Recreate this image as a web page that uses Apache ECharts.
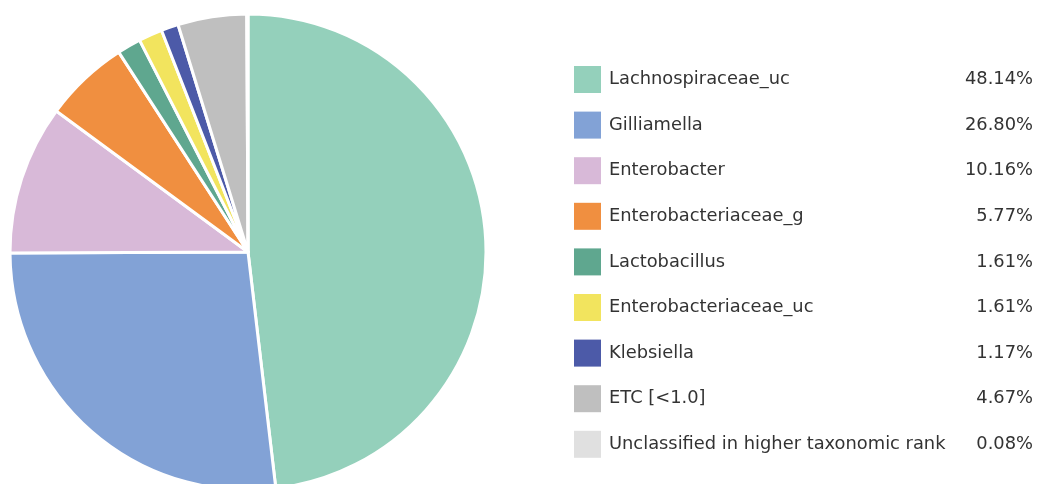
<!DOCTYPE html>
<html>
<head>
    <meta charset="utf-8">
    <title>ECharts</title>
    <style>
    html,body { height:100%; width:100%; margin:0; padding:0; background:#fff; }
    </style>
</head>
<body>
<div id="main" style="width:1037px;height:484px;"></div>
<script src="https://cdn.jsdelivr.net/npm/echarts@6/dist/echarts.min.js"></script>
<script type="text/javascript">
    // taxa and relative abundance (%)
    var taxa = ['Lachnospiraceae_uc', 'Gilliamella', 'Enterobacter', 'Enterobacteriaceae_g',
                'Lactobacillus', 'Enterobacteriaceae_uc', 'Klebsiella', 'ETC [<1.0]',
                'Unclassified in higher taxonomic rank'];
    var abundance = [48.14, 26.80, 10.16, 5.77, 1.61, 1.61, 1.17, 4.67, 0.08];
    var palette = ['#94d0bb', '#82a2d6', '#d8b9d8', '#f08f40', '#5fa78f',
                   '#f2e45e', '#4c5aa8', '#bfbfbf', '#e0e0e0'];

    var pctOf = {};
    for (var i = 0; i < taxa.length; i++) {
        pctOf[taxa[i]] = abundance[i].toFixed(2) + '%';
    }

    var pieData = taxa.map(function (name, i) {
        return { name: name, value: abundance[i] };
    });

    var font = 'Verdana, "DejaVu Sans", sans-serif';
    var myChart = echarts.init(document.getElementById('main'));
    var options = {
        animation: false,
        color: palette,
        legend: {
            orient: 'vertical',
            left: 574,
            top: 66,
            padding: 0,
            icon: 'rect',
            itemWidth: 27,
            itemHeight: 27,
            itemGap: 18.6,
            itemStyle: { borderWidth: 0 },
            selectedMode: false,
            data: taxa,
            formatter: function (name) {
                return '{n|' + name + '}{p|' + pctOf[name] + '}';
            },
            textStyle: {
                fontFamily: font,
                fontSize: 17.85,
                color: '#333',
                lineHeight: 27,
                rich: {
                    n: { width: 349, padding: [0, 0, 0, 3], fontSize: 17.85, lineHeight: 27, color: '#333', fontFamily: font },
                    p: { width: 75, align: 'right', fontSize: 17.85, lineHeight: 27, color: '#333', fontFamily: font }
                }
            }
        },
        series: [
            {
                type: 'pie',
                center: [248, 252],
                radius: 238,
                startAngle: 90,
                clockwise: true,
                label: { show: false },
                labelLine: { show: false },
                itemStyle: { borderColor: '#fff', borderWidth: 3 },
                data: pieData
            }
        ]
    };
    myChart.setOption(options);
</script>
</body>
</html>
